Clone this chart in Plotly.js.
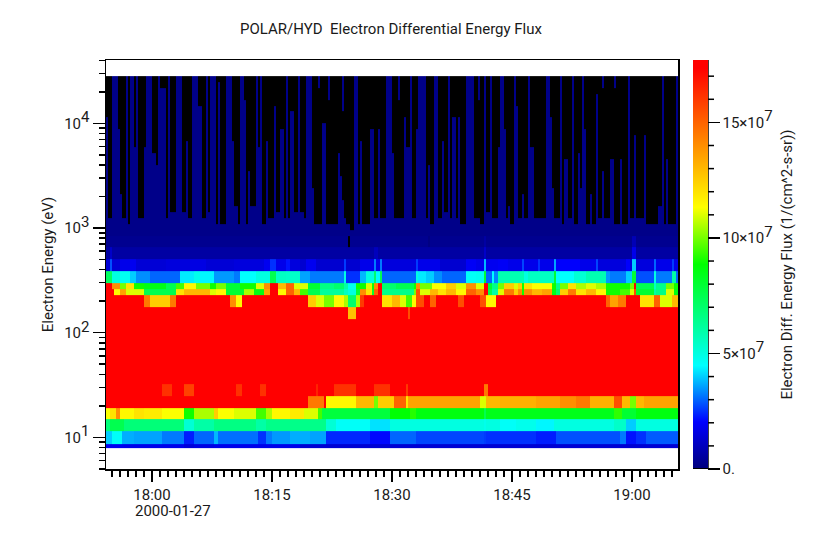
<!DOCTYPE html>
<html><head><meta charset="utf-8">
<script src="https://cdn.plot.ly/plotly-3.0.1.min.js"></script>
<style>html,body{margin:0;padding:0;background:#fff}</style></head>
<body><div id="chart" style="width:828px;height:544px"></div>
<script>
// Energy channel edges in eV
var edgesLow = [7.96, 8.69, 11.5, 14.86, 19.2, 24.8, 32.3, 135.5, 175.6, 227, 259, 296, 385, 501, 650, 845];
var edgesHigh = [962, 1096, 1248, 1421, 1618, 1843, 2099, 2390, 2722, 3100, 3530, 4020, 4578, 5213, 5937, 6761, 7699, 8768, 9985, 11371, 12949, 14747, 16793, 19124, 21779, 24802, 28245];

// Each band is [endSample, flux(1e7), ...] runs over 286 samples of 15 s
var band8eV = [9,1.8, 39,1.7, 44,1.45, 54,1.6, 97,1.7, 286,1.35];
var band10eV = [3,4, 8,4.6, 14,3.7, 28,3.6, 39,3.2, 44,2.3, 54,3, 56,3.8, 76,3.1, 80,2.5, 83,3.2, 92,3.5, 102,3.7, 110,3.6, 132,2.4, 142,2.1, 155,3, 189,2.7, 190,2.6, 215,2.5, 225,2.3, 257,2.8, 260,3.2, 265,2.2, 270,2.5, 286,2.9];
var band13eV = [2,6.8, 9,7.5, 39,6.8, 44,5.2, 54,6, 75,6.6, 80,6, 92,6.5, 110,6.5, 115,5.2, 132,4.6, 142,4.2, 189,5, 190,4.8, 197,5, 205,4.6, 215,4.8, 224,4.4, 254,5, 260,5.4, 265,4, 286,5];
var band17eV = [2,11.3, 5,12, 7,14, 14,11.5, 19,12, 28,11.8, 39,11.3, 44,9, 54,10.5, 56,12.5, 64,11.3, 75,11, 80,9.5, 83,10.5, 92,11.5, 99,11.8, 106,11, 108,9.5, 142,7.8, 152,8.8, 155,9.2, 189,8.6, 190,7.5, 254,8.4, 258,9.3, 265,8, 286,8.6];
var band22eV = [101,17.5, 109,14.5, 110,17.5, 125,11.5, 134,13, 136,10, 144,12.5, 150,15, 151,12, 187,13.5, 190,11, 197,13, 215,13.2, 227,13.5, 235,14, 242,14.5, 254,13.2, 258,15.5, 262,13, 265,10, 269,13, 286,13.5];
var band28eV = [28,17.5, 33,16.2, 39,17.5, 44,15.8, 65,17.5, 68,16.2, 77,17.5, 80,16.2, 105,17.5, 106,16.5, 114,17.5, 125,16.2, 134,17.5, 142,16.2, 150,17.5, 151,16, 189,17.5, 191,14.5, 286,17.5];
var bandCore = [286,17.5];
var band155eV = [121,17.5, 125,12.8, 151,17.5, 152,15.5, 286,17.5];
var band200eV = [19,17.5, 22,14.5, 32,12.5, 35,14.5, 62,17.5, 65,14, 68,11.5, 97,17.5, 101,17.5, 105,12.5, 109,11, 114,10, 119,11.5, 121,10.5, 125,7, 127,10.5, 129,16, 138,17.5, 143,12, 147,13, 150,11, 153,9.5, 155,11.5, 159,15.5, 162,17.5, 165,15, 176,17.5, 179,15.5, 187,17.5, 190,15.5, 195,11.5, 250,17.5, 252,15, 256,13.5, 260,14.5, 267,17.5, 274,12, 277,15, 283,11, 286,13];
var band243eV = [4,17.5, 7,11.5, 10,13.5, 19,11, 35,7.5, 39,12, 52,13, 55,11, 60,11.5, 69,8, 74,10.5, 79,8.5, 82,13.5, 86,17.5, 90,11.5, 94,15, 97,13, 101,9.5, 107,7.5, 119,6.2, 121,5.5, 125,5, 127,8, 130,14, 133,12, 134,8, 136,15, 138,17.5, 154,6.5, 155,10, 157,15.5, 162,11, 166,13, 170,12, 175,13, 180,11.5, 185,15, 187,14, 189,14, 191,17.5, 193,7.5, 196,6, 199,11, 204,14.5, 206,12.5, 208,14, 209,9, 213,14, 218,13, 223,13.5, 225,8.5, 227,7, 231,12.5, 235,14.5, 240,12, 245,13, 250,11.5, 257,9, 262,9.5, 264,11, 265,15.5, 274,8, 275,6, 280,6.5, 284,11, 286,8.5];
var band277eV = [3,17.5, 7,14, 10,10, 14,12, 19,9, 30,8.5, 35,7.5, 39,9.5, 45,11.5, 52,10, 55,9, 60,10, 67,8, 75,9, 79,11, 82,14, 86,17.5, 90,13, 94,15, 97,11, 101,11, 107,8, 114,6.6, 119,7, 121,6, 125,4.8, 130,9, 133,11, 134,9, 136,14, 138,17.5, 145,7, 154,7.5, 155,9, 157,14, 163,10, 170,11.3, 175,12.5, 180,11, 185,14, 189,11, 191,17.5, 193,8, 196,6.5, 199,10, 204,12.5, 206,11, 208,12.5, 209,9, 213,12, 223,11.3, 225,9, 227,6.5, 231,10, 235,12, 240,10.5, 245,11, 250,10.5, 262,9, 264,10, 265,17.5, 274,7.5, 275,5.5, 280,6.5, 284,10, 286,9];
var band340eV = [3,7.2, 7,5, 12,4.7, 15,4, 22,3.4, 30,3, 37,3, 44,4.3, 47,4.8, 54,4.4, 64,3.5, 67,3.2, 75,4.5, 82,5, 85,7.5, 90,5.5, 97,5.4, 102,3.6, 105,3.2, 119,3.2, 120,5, 127,2.5, 130,3.8, 134,5, 135,7, 137,4.5, 138,7.5, 155,3, 156,5, 160,4.3, 164,4, 168,3.4, 180,3, 185,4.6, 189,4.7, 190,8, 193,3, 194,4.5, 196,3.3, 209,5.8, 211,5, 224,5.5, 225,8, 234,4.5, 240,5.2, 250,5.8, 252,3.5, 260,3.2, 263,4, 265,8, 274,2.8, 275,5, 283,3.2, 285,6, 286,3];
var band440eV = [2,1.4, 3,2.8, 7,1.4, 12,1.7, 15,1.8, 30,1.4, 42,1.5, 50,1.6, 64,1.4, 79,1.5, 82,1.8, 85,2.5, 90,1.7, 92,2.2, 97,1.5, 100,1.3, 105,1.8, 119,1.3, 120,2.6, 127,1.3, 134,1.7, 135,3.2, 137,1.7, 138,3.2, 155,1.5, 156,2.6, 167,1.7, 180,1.3, 185,1.9, 189,1.7, 190,3.8, 196,1.8, 201,1.9, 208,1.7, 209,2.7, 216,1.7, 217,2.5, 224,1.7, 225,3.6, 237,2, 245,1.7, 246,2.7, 260,1.5, 262,2, 263,1.5, 265,4, 274,1.5, 275,3, 283,1.7, 284,2.6, 286,1.7];
var band570eV = [2,0.6, 3,1.2, 134,0.6, 136,1, 189,0.6, 190,1.2, 263,0.6, 265,1.7, 286,0.6];
var band740eV = [121,0.3, 122,0, 161,0.3, 162,0.1, 189,0.3, 190,0.6, 263,0.3, 265,0.9, 286,0.3];

// Highest high-energy channel reaching the dark-blue background, per run of samples (0 = all black)
var blueCeiling = [1,20, 3,3, 6,27, 7,18, 8,7, 10,3, 11,27, 12,2, 14,27, 15,15, 16,27, 19,3, 20,15, 23,27, 25,14, 26,12, 27,27, 30,25, 31,3, 32,27, 35,4, 38,27, 40,4, 41,16, 43,3, 46,27, 48,22, 50,3, 51,27, 52,4, 55,27, 56,2, 57,26, 60,2, 63,27, 64,16, 66,5, 67,2, 69,27, 70,23, 71,2, 72,11, 75,5, 76,27, 77,15, 78,27, 80,2, 81,16, 84,3, 85,22, 87,4, 89,18, 90,3, 91,27, 92,3, 94,21, 96,4, 97,27,
  99,4, 100,3, 103,27, 104,8, 108,2, 110,19, 116,2, 117,14, 118,10, 119,6, 120,3, 122,2, 124,1, 126,27, 127,2, 128,16, 132,2, 134,18, 136,3, 137,18, 140,3, 143,27, 144,14, 149,3, 150,20, 152,15, 153,27, 155,3, 156,18, 160,27, 161,3, 162,12, 164,2, 166,27, 168,3, 169,16, 171,4, 172,27, 173,3, 175,20, 176,3, 177,20, 180,2, 184,27, 187,3,
  189,2, 190,18, 192,4, 193,27, 196,3, 197,15, 199,27, 200,18, 201,3, 202,5, 204,2, 205,27, 206,22, 208,3, 209,7, 211,3, 212,27, 214,15, 220,3, 222,27, 223,20, 224,8, 227,3, 228,27, 229,2, 231,13, 233,3, 234,27, 236,2, 237,14, 238,8, 239,27, 240,18, 242,2, 243,7, 245,2, 246,24, 248,3, 249,11, 252,3, 254,13, 257,2, 258,13, 261,2, 262,27, 264,3, 265,17, 269,3, 270,17, 276,2, 278,5, 279,27, 280,2, 281,13, 285,2, 286,15];
// Detached blue fragments near the top of the panel: [sample, lowest channel]
var blueFragmentSample = [106, 111, 118, 146, 186, 189, 248, 254, 285];
var blueFragmentLevel = [26, 24, 22, 24, 24, 18, 26, 26, 16];

var backgroundFlux = 0.2;
var sampleCount = 286;
var sampleSeconds = 15;
var startTime = Date.UTC(2000, 0, 27, 17, 54, 15);

var colorStops = [[0,'#000000'],[0.003,'#000000'],[0.003,'rgb(0,0,128)'],[0.115,'rgb(0,0,255)'],[0.253,'rgb(0,255,255)'],[0.5,'rgb(0,255,0)'],[0.64,'rgb(255,255,0)'],[0.98,'rgb(255,0,0)'],[1,'rgb(255,0,0)']];
var fluxMax = 17.7e7;
function bigSup(n){ return '<sup><span style="font-size:15px">' + n + '</span></sup>'; }
var cbMajor = [0, 5e7, 10e7, 15e7];
var cbMajorText = ['0.', '5×10'+bigSup(7), '10×10'+bigSup(7), '15×10'+bigSup(7)+'\u00a0'];
var cbMinor = [1e7,2e7,3e7,4e7,6e7,7e7,8e7,9e7,11e7,12e7,13e7,14e7,16e7,17e7];
var yTickVals = [10,100,1000,10000];
var yTickText = ['10'+bigSup(1),'10'+bigSup(2),'10'+bigSup(3),'10'+bigSup(4)];
var yMinor = [];
[1,10,100,1000,10000].forEach(function(d){[2,3,4,5,6,7,8,9].forEach(function(m){yMinor.push(d*m);});});

function expand(runs){
  var out = new Array(sampleCount), k = 0;
  for (var i = 0; i < runs.length; i += 2){
    for (; k < runs[i] && k < sampleCount; k++) out[k] = runs[i+1];
  }
  for (; k < sampleCount; k++) out[k] = runs[runs.length-1];
  return out;
}
function stamp(ms){ return new Date(ms).toISOString().slice(0,19).replace('T',' '); }

var xEdges = [];
for (var i = 0; i <= sampleCount; i++) xEdges.push(stamp(startTime + i*sampleSeconds*1000));
var yEdges = edgesLow.concat(edgesHigh);

var bands = [band8eV, band10eV, band13eV, band17eV, band22eV, band28eV, bandCore, band155eV, band200eV, band243eV, band277eV, band340eV, band440eV, band570eV, band740eV];
var z = bands.map(function(b){ return expand(b).map(function(v){ return v*1e7; }); });
var ceil = expand(blueCeiling);
for (var lev = 1; lev <= edgesHigh.length; lev++){
  var row = [];
  for (var s = 0; s < sampleCount; s++){
    var isBlue = lev <= ceil[s];
    var f = blueFragmentSample.indexOf(s);
    if (f >= 0 && lev >= blueFragmentLevel[f]) isBlue = true;
    row.push(isBlue ? backgroundFlux*1e7 : 0);
  }
  z.push(row);
}

var FONT = 'Roboto, sans-serif', INK = '#1a1a1a', FS = 15;
var cbX = 587/572, cbRight = 602/572;
var shapes = cbMinor.map(function(v){
  return {type:'line', xref:'paper', yref:'paper', x0:cbRight, x1:cbRight+6/572, y0:v/fluxMax, y1:v/fluxMax, line:{color:'#000',width:1.5}};
});
shapes.push({type:'line', xref:'paper', yref:'paper', x0:cbRight, x1:cbRight, y0:0, y1:1, line:{color:'#000',width:1.5}});

var trace = {type:'heatmap', x:xEdges, y:yEdges, z:z, zmin:0, zmax:fluxMax, colorscale:colorStops, zsmooth:false, hoverongaps:false,
  colorbar:{x:cbX, xanchor:'left', xpad:0, y:0.5, yanchor:'middle', ypad:0, len:1, lenmode:'fraction', thickness:15, thicknessmode:'pixels',
    outlinewidth:0, tickmode:'array', tickvals:cbMajor, ticktext:cbMajorText, ticks:'outside', ticklen:12, tickwidth:1.5, tickcolor:'#000',
    tickfont:{family:FONT,size:FS,color:INK},
    title:{text:'Electron Diff. Energy Flux (1/(cm^2-s-sr))', side:'right', font:{family:FONT,size:FS,color:INK}}}};

var layout = {width:828, height:544, margin:{l:106,r:150,t:60,b:75}, paper_bgcolor:'#fff', plot_bgcolor:'#fff',
  font:{family:FONT,color:INK},
  title:{text:'POLAR/HYD  Electron Differential Energy Flux', x:391/828, xanchor:'center', y:1-29/544, yanchor:'middle', font:{family:FONT,size:FS,color:INK}},
  xaxis:{type:'date', range:[stamp(startTime), stamp(startTime+sampleCount*sampleSeconds*1000)], tick0:'2000-01-27 18:00:00', dtick:900000, tickformat:'%H:%M',
    ticks:'outside', ticklen:11, tickwidth:1.5, tickcolor:'#000', tickfont:{family:FONT,size:FS,color:INK}, showgrid:false, zeroline:false,
    showline:true, mirror:true, linecolor:'#000', linewidth:1.5, minor:{dtick:60000, tick0:'2000-01-27 18:00:00', ticks:'outside', ticklen:6, tickwidth:1.5, tickcolor:'#000', showgrid:false}},
  yaxis:{type:'log', range:[0.697,4.605], tickmode:'array', tickvals:yTickVals, ticktext:yTickText, ticks:'outside', ticklen:12, tickwidth:1.5, tickcolor:'#000',
    tickfont:{family:FONT,size:FS,color:INK}, showgrid:false, zeroline:false, showline:true, mirror:true, linecolor:'#000', linewidth:1.5,
    title:{text:'Electron Energy (eV)', standoff:7, font:{family:FONT,size:FS,color:INK}},
    minor:{tickmode:'array', tickvals:yMinor, ticks:'outside', ticklen:6, tickwidth:1.5, tickcolor:'#000', showgrid:false}},
  annotations:[{text:'2000-01-27', xref:'x', yref:'paper', x:stamp(Date.UTC(2000,0,27,17,57,45)), y:-42/409, xanchor:'left', yanchor:'middle', showarrow:false, xshift:-1, font:{family:FONT,size:FS,color:INK}}],
  shapes:shapes};
Plotly.newPlot('chart',[trace],layout,{displayModeBar:false,staticPlot:true});
</script></body></html>
